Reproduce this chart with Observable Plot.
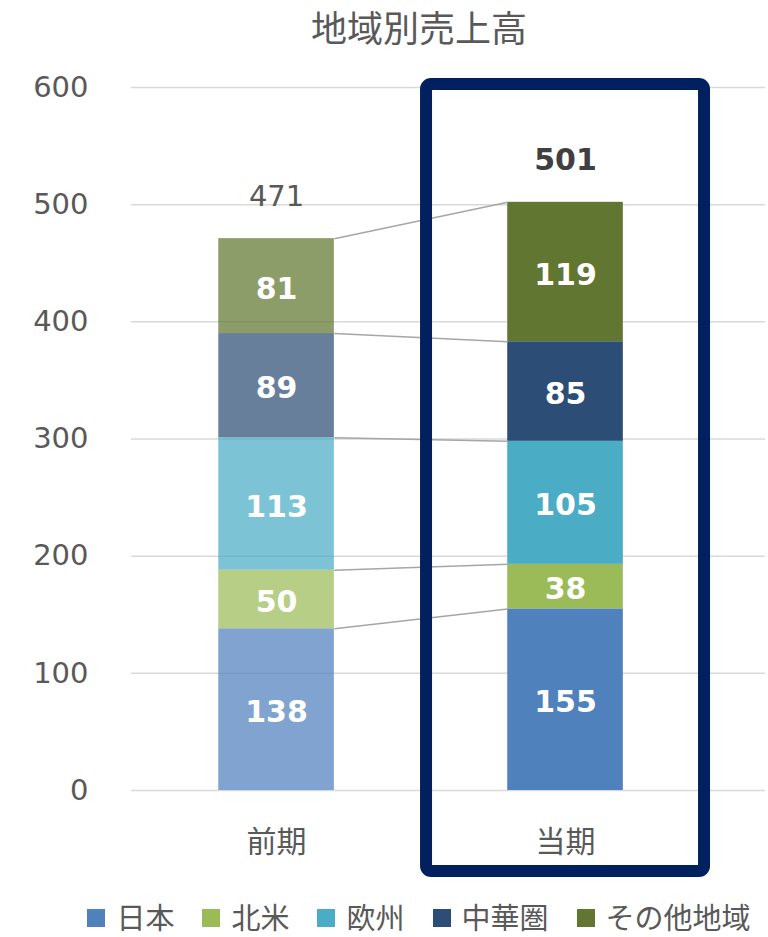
<!DOCTYPE html>
<html><head><meta charset="utf-8">
<script src="https://cdn.jsdelivr.net/npm/d3@7"></script>
<script src="https://cdn.jsdelivr.net/npm/@observablehq/plot@0.6"></script>
<style>
body{margin:0;background:#fff;width:768px;height:937px;position:relative;overflow:hidden;font-family:"DejaVu Sans","Noto Sans CJK JP",sans-serif;color:#595959}
#title{position:absolute;left:70px;width:698px;top:0px;text-align:center;font-size:36px;line-height:normal;font-family:"Noto Sans CJK JP",sans-serif;color:#595959}
#chart{position:absolute;left:0;top:0}
#legend{position:absolute;left:70px;width:698px;top:895px;display:flex;justify-content:center;align-items:center;font-size:29px;line-height:normal;font-family:"Noto Sans CJK JP",sans-serif;color:#595959}
.item{display:flex;align-items:center;margin:0 14px;white-space:nowrap}
.sw{width:18px;height:18px;margin-right:11px;margin-top:3px}
</style></head><body>
<div id="chart"></div><div id="title"></div><div id="legend"></div>
<script>
const title = "地域別売上高";
const periods = ["前期", "当期"];
const regions = ["日本", "北米", "欧州", "中華圏", "その他地域"];
const prevValues = [138, 50, 113, 89, 81];
const currValues = [155, 38, 105, 85, 119];
const totals = [471, 501];
const yTicks = [0, 100, 200, 300, 400, 500, 600];
const colors = ["#4F81BD", "#9BBB59", "#4BACC6", "#2C4D75", "#617731"];

const hw = 0.2; // half bar width in x units
const series = [prevValues, currValues];
const rows = [];
const cums = series.map(v => Array.from(d3.cumsum(v)));
series.forEach((vals, pi) => {
  vals.forEach((v, ri) => rows.push({period: periods[pi], pos: pi, region: regions[ri], value: v, y1: cums[pi][ri] - v, y2: cums[pi][ri]}));
});
const connectors = regions.map((r, ri) => ({region: r, y1: cums[0][ri], y2: cums[1][ri]}));
const totalRows = totals.map((t, i) => ({pos: i, total: t, top: cums[i][cums[i].length - 1]}));
const highlight = [{pos: 1}];

document.getElementById("title").textContent = title;

const chart = Plot.plot({
  width: 768,
  height: 890,
  marginTop: 87,
  marginBottom: 100,
  marginLeft: 131,
  marginRight: 3,
  style: {fontFamily: '"DejaVu Sans","Noto Sans CJK JP",sans-serif', fontSize: "29px", color: "#595959", background: "transparent", overflow: "visible"},
  x: {domain: [-0.502, 1.692], label: null},
  y: {domain: [0, 600], label: null},
  color: {domain: regions, range: colors},
  marks: [
    Plot.ruleY(yTicks, {stroke: "#D9D9D9", strokeWidth: 1.5}),
    Plot.rectY(rows.filter(d => d.pos === 0), {x1: d => d.pos - hw, x2: d => d.pos + hw, y1: "y1", y2: "y2", fill: "region", fillOpacity: 0.72}),
    Plot.rectY(rows.filter(d => d.pos === 1), {x1: d => d.pos - hw, x2: d => d.pos + hw, y1: "y1", y2: "y2", fill: "region"}),
    Plot.link(connectors, {x1: () => 0 + hw, x2: () => 1 - hw, y1: "y1", y2: "y2", stroke: "#A6A6A6", strokeWidth: 1.5}),
    Plot.text(rows, {x: "pos", y: d => (d.y1 + d.y2) / 2, text: d => String(d.value), dy: 3, fill: "white", fontWeight: "bold", fontSize: 30}),
    Plot.text(totalRows.filter(d => d.pos === 0), {x: "pos", y: "top", text: d => String(d.total), dy: -42, fill: "#595959", fontSize: 29}),
    Plot.text(totalRows.filter(d => d.pos === 1), {x: "pos", y: "top", text: d => String(d.total), dy: -42, fill: "#404040", fontWeight: "bold", fontSize: 30}),
    Plot.axisY({ticks: yTicks, tickSize: 0, tickPadding: 43, fontSize: 29, fill: "#595959", label: null}),
    Plot.axisX({ticks: [0, 1], tickFormat: i => periods[i], tickSize: 0, tickPadding: 40, fontSize: 30, fill: "#595959", fontFamily: '"Noto Sans CJK JP",sans-serif', label: null}),
    Plot.rect(highlight, {x1: d => d.pos - 0.481, x2: d => d.pos + 0.481, y1: () => 0, y2: () => d3.max(yTicks), insetTop: -3, insetBottom: -81, fill: "none", stroke: "#002060", strokeWidth: 12, rx: 5})
  ]
});
document.getElementById("chart").appendChild(chart);

const legend = d3.select("#legend");
regions.forEach((r, i) => {
  const it = legend.append("div").attr("class", "item");
  it.append("div").attr("class", "sw").style("background", colors[i]);
  it.append("span").text(r);
});
</script>
</body></html>
